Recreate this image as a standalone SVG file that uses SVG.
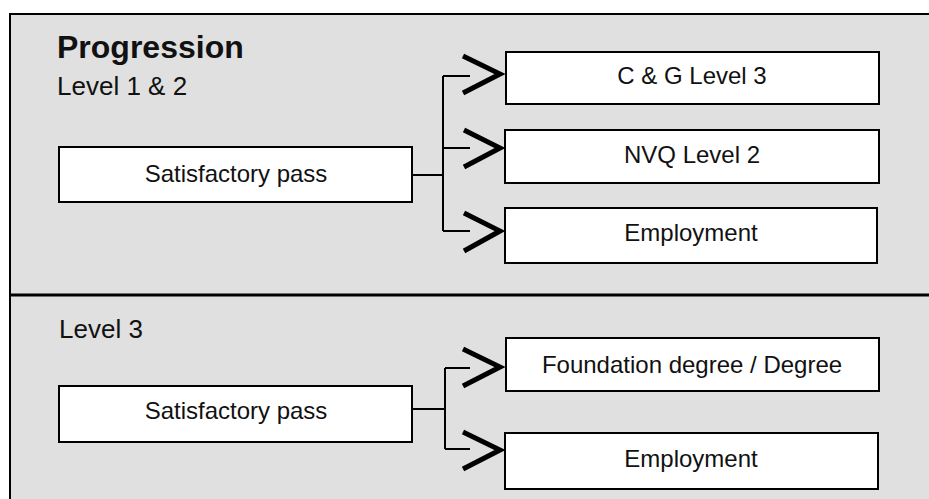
<svg xmlns="http://www.w3.org/2000/svg" width="929" height="499" viewBox="0 0 929 499">
<style>
.node rect{fill:#fff;stroke:#000;stroke-width:2}
.node text{font-family:"Liberation Sans",Arial,sans-serif;font-size:24px;text-anchor:middle;fill:#111}
.lbl{font-family:"Liberation Sans",Arial,sans-serif;font-size:26px;fill:#111}
.conn path{fill:none;stroke:#000;stroke-width:2}
.conn .chev{stroke-width:5;stroke-linejoin:miter}
</style>
<rect x="0" y="0" width="929" height="499" fill="#fff"/>
<rect x="10" y="14" width="940" height="500" fill="#e0e0e0" stroke="#000" stroke-width="2"/>
<line x1="10" y1="295" x2="929" y2="295" stroke="#000" stroke-width="3"/>
<text x="57" y="58" class="lbl" style="font-weight:bold;font-size:32px">Progression</text>
<text x="57" y="95" class="lbl">Level 1 &amp; 2</text>
<text x="59" y="338" class="lbl">Level 3</text>
<g id="sat1" class="node"><rect x="59" y="147" width="353" height="55"/><text x="236" y="182">Satisfactory pass</text></g>
<g id="cg3" class="node"><rect x="506" y="52" width="373" height="52"/><text x="692" y="84">C &amp; G Level 3</text></g>
<g id="nvq2" class="node"><rect x="505" y="130" width="374" height="53"/><text x="692" y="163">NVQ Level 2</text></g>
<g id="emp1" class="node"><rect x="505" y="208" width="372" height="55"/><text x="691" y="241">Employment</text></g>
<g id="sat2" class="node"><rect x="59" y="386" width="353" height="56"/><text x="236" y="419">Satisfactory pass</text></g>
<g id="fdeg" class="node"><rect x="506" y="338" width="373" height="53"/><text x="692" y="373">Foundation degree / Degree</text></g>
<g id="emp2" class="node"><rect x="505" y="433" width="373" height="56"/><text x="691" y="467">Employment</text></g>
<g id="connectors" class="conn">
<path d="M412 409H445M445 368V449M445 368H470M445 449H470"/>
<path d="M412 175H443M443 76V231M443 76H470M443 148H470M443 231H470"/>
<path class="chev" d="M463 56L500 74L463 93"/>
<path class="chev" d="M464 130L500 148L464 167"/>
<path class="chev" d="M464 213L500 231L464 251"/>
<path class="chev" d="M463 349L500 367L463 386"/>
<path class="chev" d="M463 432L500 450L463 469"/>
</g>
</svg>
